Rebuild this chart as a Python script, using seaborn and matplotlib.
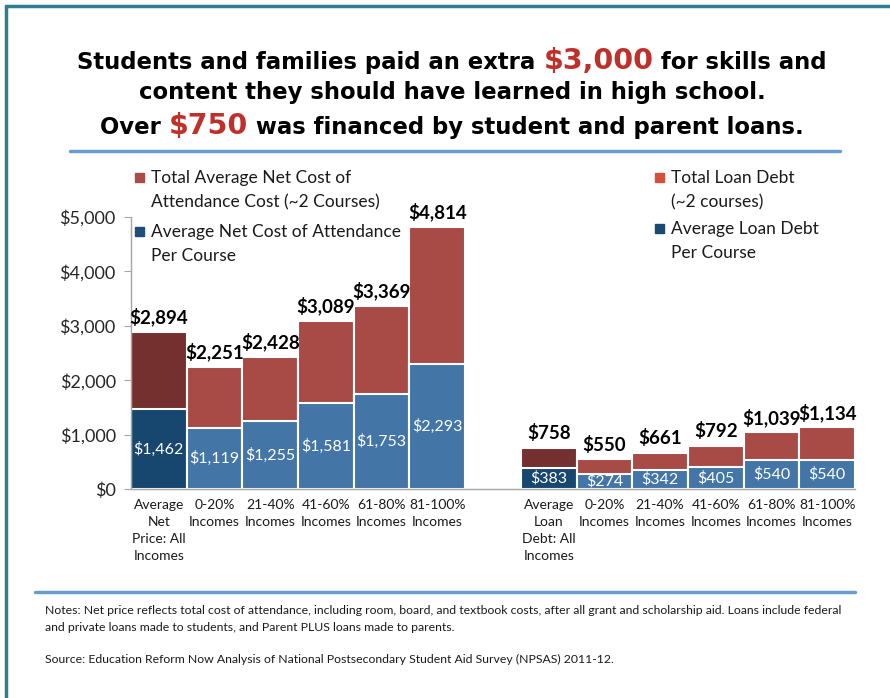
import matplotlib
matplotlib.use("Agg")
import matplotlib.pyplot as plt
import seaborn as sns
import pandas as pd
from matplotlib.offsetbox import TextArea, HPacker, AnchoredOffsetbox
from matplotlib.patches import Rectangle
from matplotlib.lines import Line2D

# data
cost_labels = ["Average\nNet\nPrice: All\nIncomes", "0-20%\nIncomes", "21-40%\nIncomes",
               "41-60%\nIncomes", "61-80%\nIncomes", "81-100%\nIncomes"]
cost_total = [2894, 2251, 2428, 3089, 3369, 4814]
cost_course = [1462, 1119, 1255, 1581, 1753, 2293]

loan_labels = ["Average\nLoan\nDebt: All\nIncomes", "0-20%\nIncomes", "21-40%\nIncomes",
               "41-60%\nIncomes", "61-80%\nIncomes", "81-100%\nIncomes"]
loan_total = [758, 550, 661, 792, 1039, 1134]
loan_course = [383, 274, 342, 405, 540, 540]

cost_keys = ["c%d" % i for i in range(6)]
loan_keys = ["l%d" % i for i in range(6)]
order = cost_keys + ["gap"] + loan_keys

df = pd.DataFrame({
    "slot": cost_keys + loan_keys,
    "label": cost_labels + loan_labels,
    "total": cost_total + loan_total,
    "course": cost_course + loan_course,
})

red_pal = {k: ("#74302F" if k in ("c0", "l0") else "#A84A46") for k in df["slot"]}
blue_pal = {k: ("#17476F" if k in ("c0", "l0") else "#4376A6") for k in df["slot"]}

sns.set_style("white")
plt.rcParams["font.family"] = ["Lato", "DejaVu Sans"]

W, H = 890, 698
fig = plt.figure(figsize=(W / 100, H / 100), dpi=100)
ax = fig.add_axes([131 / W, 1 - 489 / H, (855 - 131) / W, (489 - 217) / H])

sns.barplot(data=df, x="slot", y="total", hue="slot", order=order, palette=red_pal,
            saturation=1, width=1.0, edgecolor="white", linewidth=1.5, errorbar=None,
            legend=False, ax=ax)
n_tot = len(ax.containers)
sns.barplot(data=df, x="slot", y="course", hue="slot", order=order, palette=blue_pal,
            saturation=1, width=1.0, edgecolor="white", linewidth=1.5, errorbar=None,
            legend=False, ax=ax)

for c in ax.containers[:n_tot]:
    ax.bar_label(c, fmt="${:,.0f}", padding=4, fontsize=13.5, fontweight="bold", color="black")
for c in ax.containers[n_tot:]:
    ax.bar_label(c, fmt="${:,.0f}", label_type="center", fontsize=11.5, color="white")

ax.set_xlim(-0.5, 12.5)
ax.set_ylim(0, 5000)
yt = [0, 1000, 2000, 3000, 4000, 5000]
ax.set_yticks(yt)
ax.set_yticklabels(["${:,}".format(v) for v in yt], fontsize=13)
ax.set_xticks([i - 0.5 for i in range(14)])
ax.set_xticklabels([])
ax.set_xticks([i for i in range(13) if i != 6], minor=True)
ax.set_xticklabels(cost_labels + loan_labels, minor=True, fontsize=10, linespacing=1.5,
                   va="top", color="#1a1a1a")
ax.tick_params(axis="x", which="major", length=5, color="#A6A6A6", direction="out")
ax.tick_params(axis="x", which="minor", length=0, pad=7)
ax.tick_params(axis="y", length=5, color="#A6A6A6", direction="out", left=True, pad=6)
ax.set_xlabel("")
ax.set_ylabel("")
for s in ["top", "right"]:
    ax.spines[s].set_visible(False)
for s in ["left", "bottom"]:
    ax.spines[s].set_color("#A6A6A6")
    ax.spines[s].set_linewidth(1)

# title lines with red figures
title_kw = dict(fontfamily="DejaVu Sans", fontweight="bold", color="black", fontsize=16.4)
red_kw = dict(fontfamily="DejaVu Sans", fontweight="bold", color="#C0302A", fontsize=20.5)
title_lines = [
    [("Students and families paid an extra ", title_kw), ("$3,000", red_kw),
     (" for skills and", title_kw)],
    [("content they should have learned in high school.", title_kw)],
    [("Over ", title_kw), ("$750", red_kw), (" was financed by student and parent loans.", title_kw)],
]
for y, parts in zip([61, 93, 126], title_lines):
    box = HPacker(children=[TextArea(t, textprops=kw) for t, kw in parts],
                  align="baseline", pad=0, sep=0)
    anc = AnchoredOffsetbox(loc="center", child=box, pad=0, frameon=False,
                            bbox_to_anchor=(452 / W, 1 - y / H), bbox_transform=fig.transFigure,
                            borderpad=0)
    fig.add_artist(anc)

# rules and frame
fig.add_artist(Line2D([70 / W, 840 / W], [1 - 151 / H] * 2, color="#6A9BD0", lw=2.5))
fig.add_artist(Line2D([35 / W, 855 / W], [1 - 592 / H] * 2, color="#6A9BD0", lw=2.5))
fig.add_artist(Line2D([6 / W, 6 / W], [0, 1 - 6 / H], color="#2E7D91", lw=2.5))
fig.add_artist(Line2D([6 / W, 1], [1 - 6 / H] * 2, color="#2E7D91", lw=2.5))

# legends
def legend_entry(x, y, color, text):
    fig.add_artist(Rectangle((x / W, 1 - (y + 5) / H), 9 / W, 9 / H, color=color,
                             transform=fig.transFigure))
    fig.text((x + 16) / W, 1 - (y - 7) / H, text, fontsize=12.5, va="top", ha="left",
             linespacing=1.6, color="#1a1a1a")

legend_entry(135, 177, "#A94B47", "Total Average Net Cost of\nAttendance Cost (~2 Courses)")
legend_entry(135, 231, "#1F4E79", "Average Net Cost of Attendance\nPer Course")
legend_entry(655, 177, "#D3503A", "Total Loan Debt\n(~2 courses)")
legend_entry(655, 228, "#1A4A72", "Average Loan Debt\nPer Course")

# notes
fig.text(45 / W, 1 - 619 / H,
         "Notes: Net price reflects total cost of attendance, including room, board, and textbook costs, "
         "after all grant and scholarship aid. Loans include federal\nand private loans made to students, "
         "and Parent PLUS loans made to parents.",
         fontsize=8.8, va="center", ha="left", linespacing=1.75, color="#1a1a1a")
fig.text(45 / W, 1 - 659 / H,
         "Source: Education Reform Now Analysis of National Postsecondary Student Aid Survey (NPSAS) 2011-12.",
         fontsize=8.8, va="center", ha="left", color="#1a1a1a")

fig.savefig("out.png", dpi=100)
